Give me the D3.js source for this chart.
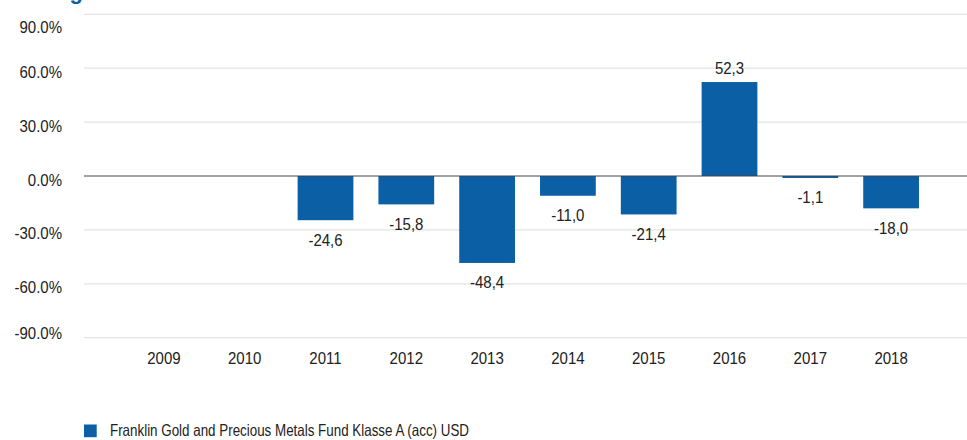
<html>
<head>
    <meta charset="utf-8">
    <script src="https://d3js.org/d3.v7.min.js"></script>
    <style>
        body { margin: 0; background: #fff; }
        text { font-family: "Liberation Sans", Arial, sans-serif; }
    </style>
</head>
<body>
    <svg id="chartArea" width="967" height="440"></svg>
    <script>
        // data
        const years = ["2009", "2010", "2011", "2012", "2013", "2014", "2015", "2016", "2017", "2018"];
        const returns = [null, null, -24.6, -15.8, -48.4, -11.0, -21.4, 52.3, -1.1, -18.0];
        const yTicks = [90, 60, 30, 0, -30, -60, -90];
        const seriesName = "Franklin Gold and Precious Metals Fund Klasse A (acc) USD";
        const titleText = "Wertentwicklung";

        const svg = d3.select("#chartArea");
        const margins = { top: 14, right: 0, bottom: 102, left: 84 };
        const width = +svg.attr("width");

        const barColor = "#0b5fa5";
        const fontSize = "16.5px";
        const squeeze = 0.91;   // the picture's font is narrower than Arial

        // put a text at x,y and squeeze it horizontally
        const place = (x, yy) => `translate(${x},${yy}) scale(${squeeze},1)`;

        // title, mostly above the top edge like in the picture
        svg.append("text")
            .attr("x", 83).attr("y", -1)
            .attr("text-anchor", "end")
            .attr("font-size", "22px")
            .attr("font-weight", "bold")
            .attr("fill", barColor)
            .text(titleText);

        const y = d3.scaleLinear()
            .domain([-90, 90])
            .range([337.7, 14.3]);

        const x = d3.scaleBand()
            .domain(years)
            .range([123.5, 931.5])
            .paddingInner(0.31)
            .paddingOuter(0.155);

        // plain hyphen as minus sign
        const locale = d3.formatLocale({ decimal: ".", thousands: ",", grouping: [3], currency: ["", ""], minus: "-" });
        const fmt = locale.format(".1f");

        // grid lines
        svg.append("g").selectAll("line.grid").data(yTicks.filter(d => d !== 0))
            .join("line")
            .attr("class", "grid")
            .attr("x1", margins.left).attr("x2", width)
            .attr("y1", d => y(d)).attr("y2", d => y(d))
            .attr("stroke", "#e3e3e3")
            .attr("stroke-width", 1.2);

        // y axis labels (end labels are kept inside the plot)
        svg.append("g").selectAll("text.ytick").data(yTicks)
            .join("text")
            .attr("class", "ytick")
            .attr("transform", d => place(62, Math.min(332.5, Math.max(27, y(d) + 3.5)) + 6))
            .attr("text-anchor", "end")
            .attr("font-size", fontSize)
            .attr("fill", "#222")
            .text(d => fmt(d) + "%");

        const data = years.map((yr, i) => ({ year: yr, value: returns[i] }))
            .filter(d => d.value !== null);

        // bars
        svg.append("g").selectAll("rect.bar").data(data)
            .join("rect")
            .attr("class", "bar")
            .attr("x", d => x(d.year))
            .attr("width", x.bandwidth())
            .attr("y", d => y(Math.max(0, d.value)))
            .attr("height", d => Math.abs(y(d.value) - y(0)))
            .attr("fill", barColor);

        // zero line
        svg.append("line")
            .attr("x1", margins.left).attr("x2", width)
            .attr("y1", y(0)).attr("y2", y(0))
            .attr("stroke", "#444")
            .attr("stroke-width", 1.2);

        // value labels
        svg.append("g").selectAll("text.val").data(data)
            .join("text")
            .attr("class", "val")
            .attr("transform", d => place(x(d.year) + x.bandwidth() / 2,
                d.value >= 0 ? y(d.value) - 8 : y(d.value) + 25.5))
            .attr("text-anchor", "middle")
            .attr("font-size", fontSize)
            .attr("fill", "#222")
            .text(d => fmt(d.value).replace(".", ","));

        // x labels
        svg.append("g").selectAll("text.xtick").data(years)
            .join("text")
            .attr("class", "xtick")
            .attr("transform", d => place(x(d) + x.bandwidth() / 2, 364.3))
            .attr("text-anchor", "middle")
            .attr("font-size", fontSize)
            .attr("fill", "#222")
            .text(d => d);

        // legend
        const legend = svg.append("g").attr("transform", "translate(84,424.5)");
        legend.append("rect")
            .attr("width", 12.7).attr("height", 12.7)
            .attr("fill", barColor);
        legend.append("text")
            .attr("x", 26).attr("y", 11.8)
            .attr("font-size", fontSize)
            .attr("textLength", 359)
            .attr("lengthAdjust", "spacingAndGlyphs")
            .attr("fill", "#222")
            .text(seriesName);
    </script>
</body>
</html>
